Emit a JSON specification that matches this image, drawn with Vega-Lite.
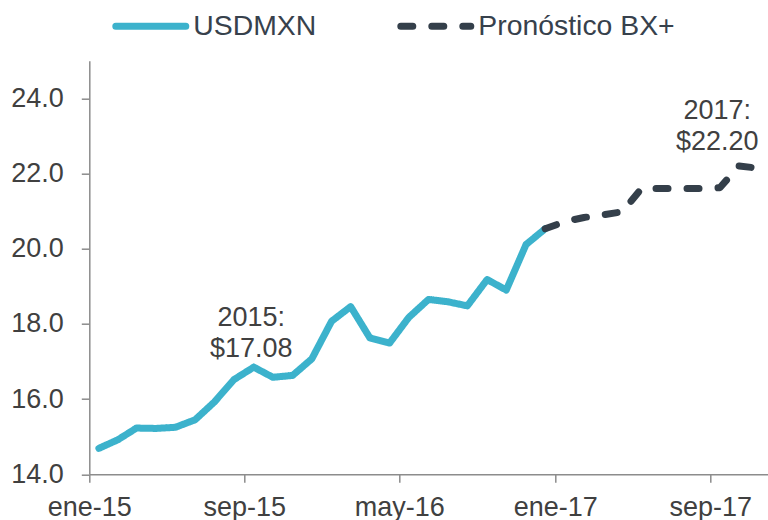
{
  "$schema": "https://vega.github.io/schema/vega-lite/v6.json",
  "width": 679,
  "height": 413.6,
  "autosize": "none",
  "padding": {"left": 89.3, "top": 60.7, "right": 0, "bottom": 45.7},
  "background": "white",
  "config": {
    "view": {"stroke": null},
    "font": "Liberation Sans",
    "axis": {
      "labelFont": "Liberation Sans",
      "labelFontSize": 27,
      "labelColor": "#404040",
      "domainColor": "#8c8c8c",
      "domainWidth": 1.5,
      "tickColor": "#8c8c8c",
      "tickWidth": 1.5,
      "tickSize": 8,
      "grid": false,
      "title": null
    }
  },
  "datasets": {
    "fx": [
      {"date": "2015/01/16", "value": 14.69, "series": "USDMXN"},
      {"date": "2015/02/15", "value": 14.92, "series": "USDMXN"},
      {"date": "2015/03/16", "value": 15.23, "series": "USDMXN"},
      {"date": "2015/04/16", "value": 15.22, "series": "USDMXN"},
      {"date": "2015/05/16", "value": 15.25, "series": "USDMXN"},
      {"date": "2015/06/16", "value": 15.45, "series": "USDMXN"},
      {"date": "2015/07/16", "value": 15.92, "series": "USDMXN"},
      {"date": "2015/08/16", "value": 16.52, "series": "USDMXN"},
      {"date": "2015/09/16", "value": 16.85, "series": "USDMXN"},
      {"date": "2015/10/16", "value": 16.58, "series": "USDMXN"},
      {"date": "2015/11/16", "value": 16.63, "series": "USDMXN"},
      {"date": "2015/12/16", "value": 17.07, "series": "USDMXN"},
      {"date": "2016/01/16", "value": 18.07, "series": "USDMXN"},
      {"date": "2016/02/15", "value": 18.46, "series": "USDMXN"},
      {"date": "2016/03/16", "value": 17.63, "series": "USDMXN"},
      {"date": "2016/04/16", "value": 17.49, "series": "USDMXN"},
      {"date": "2016/05/16", "value": 18.17, "series": "USDMXN"},
      {"date": "2016/06/16", "value": 18.65, "series": "USDMXN"},
      {"date": "2016/07/16", "value": 18.59, "series": "USDMXN"},
      {"date": "2016/08/16", "value": 18.48, "series": "USDMXN"},
      {"date": "2016/09/16", "value": 19.18, "series": "USDMXN"},
      {"date": "2016/10/16", "value": 18.90, "series": "USDMXN"},
      {"date": "2016/11/16", "value": 20.11, "series": "USDMXN"},
      {"date": "2016/12/16", "value": 20.53, "series": "USDMXN"},
      {"date": "2016/12/16", "value": 20.53, "series": "Pronóstico BX+"},
      {"date": "2017/01/16", "value": 20.72, "series": "Pronóstico BX+"},
      {"date": "2017/02/15", "value": 20.83, "series": "Pronóstico BX+"},
      {"date": "2017/03/16", "value": 20.90, "series": "Pronóstico BX+"},
      {"date": "2017/04/16", "value": 20.98, "series": "Pronóstico BX+"},
      {"date": "2017/05/16", "value": 21.60, "series": "Pronóstico BX+"},
      {"date": "2017/06/16", "value": 21.60, "series": "Pronóstico BX+"},
      {"date": "2017/07/16", "value": 21.60, "series": "Pronóstico BX+"},
      {"date": "2017/08/16", "value": 21.60, "series": "Pronóstico BX+"},
      {"date": "2017/09/16", "value": 21.62, "series": "Pronóstico BX+"},
      {"date": "2017/10/16", "value": 22.20, "series": "Pronóstico BX+"},
      {"date": "2017/11/16", "value": 22.14, "series": "Pronóstico BX+"}
    ],
    "notes": [
      {"date": "2015/09/12", "value": 18.5, "label": ["2015:", "$17.08"]},
      {"date": "2017/09/12", "value": 24.0, "label": ["2017:", "$22.20"]}
    ]
  },
  "layer": [
    {
      "data": {"name": "fx"},
      "mark": {"type": "line", "strokeWidth": 7, "strokeCap": "round", "strokeJoin": "round"},
      "encoding": {
        "x": {
          "field": "date",
          "type": "temporal",
          "scale": {"domain": [{"year": 2015, "month": 1, "date": 1}, {"year": 2017, "month": 12, "date": 1}], "nice": false},
          "axis": {
            "values": [
              {"year": 2015, "month": 1, "date": 1},
              {"year": 2015, "month": 9, "date": 1},
              {"year": 2016, "month": 5, "date": 1},
              {"year": 2017, "month": 1, "date": 1},
              {"year": 2017, "month": 9, "date": 1}
            ],
            "labelExpr": "['ene','feb','mar','abr','may','jun','jul','ago','sep','oct','nov','dic'][month(datum.value)] + '-' + timeFormat(datum.value, '%y')",
            "labelPadding": 12,
            "labelFlush": false,
            "labelOverlap": false
          }
        },
        "y": {
          "field": "value",
          "type": "quantitative",
          "scale": {"domain": [14, 25], "nice": false, "zero": false},
          "axis": {
            "values": [14, 16, 18, 20, 22, 24],
            "format": ".1f",
            "labelPadding": 18
          }
        },
        "color": {
          "field": "series",
          "type": "nominal",
          "sort": ["USDMXN", "Pronóstico BX+"],
          "scale": {"domain": ["USDMXN", "Pronóstico BX+"], "range": ["#3cb2cc", "#343f4a"]},
          "legend": {
            "orient": "none",
            "direction": "horizontal",
            "columns": 2,
            "legendX": 23,
            "legendY": -73,
            "title": null,
            "padding": 0,
            "symbolType": "stroke",
            "symbolSize": 4900,
            "symbolStrokeWidth": 7,
            "labelFontSize": 28.4,
            "labelFont": "Liberation Sans",
            "labelColor": "#37414c",
            "labelOffset": 4,
            "columnPadding": 69,
            "labelLimit": 400,
            "encode": {
              "symbols": {
                "update": {
                  "strokeCap": {"value": "round"},
                  "strokeDash": {"signal": "datum.value === 'USDMXN' ? [1, 0] : [20, 12]"}
                }
              }
            }
          }
        },
        "strokeDash": {
          "field": "series",
          "type": "nominal",
          "sort": ["USDMXN", "Pronóstico BX+"],
          "scale": {"domain": ["USDMXN", "Pronóstico BX+"], "range": [[1, 0], [12, 19]]},
          "legend": null
        }
      }
    },
    {
      "data": {"name": "notes"},
      "mark": {"type": "text", "align": "center", "baseline": "top", "fontSize": 27, "lineHeight": 30.5, "color": "#404040", "font": "Liberation Sans"},
      "encoding": {
        "x": {"field": "date", "type": "temporal"},
        "y": {"field": "value", "type": "quantitative"},
        "text": {"field": "label"}
      }
    }
  ]
}
